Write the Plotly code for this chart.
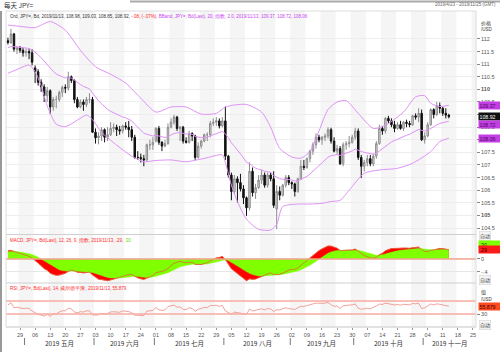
import numpy as np
import plotly.graph_objects as go

# ---------------- data (USD/JPY daily, 2019-04-23 .. 2019-11-13) ----------------
open_ = [111.93,111.86,112.20,111.58,111.65,111.55,111.45,111.50,111.45,110.85,
         110.70,110.28,110.10,109.75,109.95,109.30,109.60,109.60,109.88,110.08,
         110.05,110.50,110.35,109.60,109.30,109.50,109.40,109.60,109.60,108.30,
         108.08,108.15,108.40,108.10,108.20,108.45,108.50,108.40,108.35,108.55,
         108.50,108.40,108.10,107.30,107.30,107.25,107.20,107.80,107.80,107.95,
         108.45,107.90,107.75,107.85,108.50,108.70,108.90,108.45,108.50,107.95,
         107.90,108.25,108.15,107.30,107.75,107.95,108.20,108.20,108.65,108.70,
         108.75,108.55,108.75,107.35,106.60,105.95,106.45,106.30,106.05,105.70,
         105.30,106.75,105.90,106.10,106.40,106.60,106.20,106.60,106.45,105.25,
         105.95,105.80,106.20,106.50,106.30,106.25,105.95,106.45,106.95,106.90,
         107.25,107.55,107.80,108.10,108.00,108.10,108.15,108.40,107.95,107.55,
         107.65,107.05,107.80,107.85,107.90,108.10,108.35,107.30,106.95,107.10,
         107.25,107.05,107.35,107.85,108.45,108.35,108.85,108.75,108.60,108.45,
         108.60,108.45,108.70,108.65,108.60,108.95,108.90,109.05,108.00,108.15,
         108.60,109.20,109.00,109.35,109.25,109.05,108.98]
high = [112.05,112.40,112.24,111.72,111.72,111.66,111.62,111.60,111.60,110.95,
        110.80,110.40,110.20,110.10,110.00,109.70,109.75,109.95,110.15,110.20,
        110.70,110.55,110.40,109.70,109.60,109.60,109.70,109.85,109.70,108.45,
        108.30,108.50,108.45,108.50,108.70,108.65,108.60,108.55,108.60,108.70,
        108.75,108.55,108.20,107.55,107.45,107.40,107.85,108.00,108.10,108.50,
        108.55,107.95,108.00,108.65,108.85,108.99,108.95,108.55,108.55,108.10,
        108.35,108.30,108.20,107.90,108.00,108.25,108.30,108.75,108.85,108.90,
        108.85,108.90,109.32,107.40,106.70,106.60,106.55,106.65,106.20,105.75,
        107.10,106.90,106.25,106.60,106.80,106.70,106.70,106.70,106.75,106.20,
        106.15,106.25,106.60,106.60,106.35,106.30,106.50,107.20,107.20,107.30,
        107.60,107.90,108.25,108.20,108.15,108.25,108.50,108.48,108.10,107.80,
        107.75,107.90,107.95,108.15,108.20,108.48,108.45,107.40,107.20,107.40,
        107.40,107.45,107.95,108.60,108.55,108.90,108.95,108.85,108.75,108.70,
        108.75,108.75,108.80,108.75,109.00,109.05,109.25,109.20,108.30,108.70,
        109.25,109.25,109.50,109.48,109.30,109.25,109.03]
low = [111.78,111.80,111.50,111.40,111.45,111.30,111.30,111.20,110.95,110.25,
       110.15,109.90,109.50,109.50,109.02,109.15,109.25,109.50,109.70,109.85,
       109.95,110.25,109.45,109.25,109.25,109.15,109.30,109.45,108.28,107.85,
       107.82,107.95,107.90,107.95,108.15,108.30,108.15,108.20,108.25,108.40,
       108.10,107.95,107.25,107.20,107.10,106.95,107.15,107.60,107.60,107.90,
       107.80,107.55,107.70,107.80,108.45,108.60,108.35,107.95,107.85,107.85,
       107.85,107.95,107.20,107.25,107.65,107.90,107.95,108.10,108.55,108.55,
       108.45,108.50,107.20,106.50,105.60,105.85,105.50,105.95,105.45,104.98,
       105.20,105.75,105.65,106.05,106.25,106.10,106.10,106.35,105.30,104.45,
       105.60,105.75,106.10,106.20,106.05,105.75,105.90,106.40,106.80,106.85,
       107.10,107.40,107.65,107.90,107.80,107.95,108.05,107.85,107.50,107.40,
       107.00,106.95,107.60,107.70,107.85,108.00,107.20,106.48,106.75,106.95,
       106.95,106.95,107.25,107.80,108.20,108.25,108.65,108.50,108.30,108.40,
       108.40,108.35,108.50,108.50,108.55,108.80,108.70,107.95,107.85,108.10,
       108.55,108.85,108.95,109.05,108.95,108.85,108.85]
close = [111.86,112.20,111.60,111.65,111.55,111.45,111.50,111.45,111.08,110.70,
         110.28,110.10,109.75,109.95,109.30,109.60,109.60,109.88,110.08,110.05,
         110.50,110.35,109.60,109.30,109.50,109.40,109.60,109.60,108.30,108.08,
         108.15,108.40,108.10,108.20,108.45,108.50,108.40,108.35,108.55,108.50,
         108.40,108.10,107.30,107.30,107.25,107.20,107.80,107.80,107.90,108.45,
         107.90,107.75,107.85,108.50,108.70,108.90,108.45,108.50,107.95,107.90,
         108.25,108.15,107.30,107.75,107.95,108.20,108.20,108.65,108.70,108.75,
         108.55,108.75,107.35,106.60,105.95,106.45,106.30,106.05,105.70,105.30,
         106.75,105.90,106.10,106.40,106.60,106.20,106.60,106.45,105.40,105.95,
         105.80,106.20,106.50,106.30,106.25,105.95,106.45,106.95,106.90,107.25,
         107.55,107.80,108.10,108.00,108.10,108.15,108.40,107.95,107.55,107.65,
         107.05,107.80,107.85,107.90,108.10,108.35,107.30,106.95,107.10,107.25,
         107.05,107.35,107.85,108.45,108.35,108.85,108.75,108.60,108.45,108.60,
         108.45,108.70,108.65,108.60,108.95,108.90,109.05,108.00,108.15,108.60,
         109.20,109.00,109.35,109.25,109.05,108.98,108.92]

# Bollinger band edges (trading-day index, price)
upper_idx = [1, 5, 10, 15, 20, 25, 30, 35, 40, 45, 50, 55, 60, 65, 70, 73, 76, 80,
             85, 88, 91, 95, 98, 101, 104, 107, 110, 113, 117, 122, 126, 132, 136,
             139, 141, 144, 147]
upper_val = [112.55, 112.50, 112.45, 112.69, 112.35, 111.55, 110.90, 110.60, 110.25,
             109.65, 109.10, 109.30, 109.30, 109.02, 109.05, 109.30, 109.38, 109.40,
             109.10, 108.50, 107.66, 107.32, 107.27, 107.53, 108.35, 109.20, 109.50,
             109.55, 109.05, 108.45, 108.58, 109.10, 109.70, 109.75, 109.45, 109.32,
             109.37]
lower_idx = [1, 5, 8, 10, 12, 14, 17, 20, 24, 27, 29, 32, 37, 42, 46, 50, 55, 60, 66,
             72, 73, 75, 77, 80, 84, 88, 90, 92, 97, 101, 105, 108, 111, 114, 119, 124,
             130, 135, 141, 144, 147]
lower_val = [110.64, 110.84, 110.97, 110.70, 110.15, 109.35, 108.62, 108.52, 108.78,
             108.98, 108.80, 108.30, 107.79, 107.35, 107.13, 107.18, 107.20, 107.13,
             107.26, 107.40, 107.10, 106.20, 105.55, 104.85, 104.45, 104.42, 104.65,
             105.35, 105.45, 105.45, 105.48, 105.55, 105.60, 106.00, 106.67, 106.80,
             106.87, 107.07, 107.53, 107.93, 108.06]

day_labels = ["29","06","13","20","27","03","10","17","24","01","08","15","22","29",
              "05","12","19","26","02","09","16","23","30","07","14","21","28",
              "04","11","18","25"]
month_names = ["2019 五月","2019 六月","2019 七月","2019 八月","2019 九月",
               "2019 十月","2019 十一月"]
month_first_day = [7, 30, 50, 73, 95, 116, 139]   # trading-day index of month start

# seeds for the indicators (state before the first visible day)
bb_seed_mid = 111.63
macd_seed_fast, macd_seed_slow, macd_seed_sig = 111.74, 111.48, 0.22
rsi_seed_gain, rsi_seed_loss, rsi_seed_prev = 0.090, 0.060, 111.93

# ---------------- indicators ----------------
c = np.array(close)
n = len(c)
xs = np.arange(1, n + 1)

def ema(vals, span, seed):
    k = 2 / (span + 1); out = []; prev = seed
    for val in vals:
        prev = prev + k * (val - prev); out.append(prev)
    return np.array(out)

mid = ema(c, 20, bb_seed_mid)
macd = ema(c, 12, macd_seed_fast) - ema(c, 26, macd_seed_slow)
sig = ema(macd, 9, macd_seed_sig)

rsi = []
ag, al, prevc = rsi_seed_gain, rsi_seed_loss, rsi_seed_prev
for p in c:
    ch = p - prevc
    ag = (ag * 13 + max(ch, 0)) / 14
    al = (al * 13 + max(-ch, 0)) / 14
    rsi.append(100 - 100 / (1 + ag / al))
    prevc = p

# ---------------- geometry helpers ----------------
W, H = 500, 352
def py(y):
    return 1 - y / H
def px(x):
    return x / W

X0, X1 = 6, 476
MAIN = (11, 234); MACDP = (235, 282); RSIP = (284, 327)

fig = go.Figure()

fig.add_trace(go.Candlestick(
    x=xs, open=open_, high=high, low=low, close=close,
    increasing=dict(line=dict(color="#8c8c8c", width=1), fillcolor="#dcdcdc"),
    decreasing=dict(line=dict(color="#111111", width=1), fillcolor="#111111"),
    whiskerwidth=0, showlegend=False, xaxis="x", yaxis="y"))
band_line = dict(color="#df92f5", width=1, shape="spline", smoothing=0.7)
fig.add_trace(go.Scatter(x=upper_idx, y=upper_val, mode="lines", line=band_line,
                         showlegend=False, xaxis="x", yaxis="y"))
fig.add_trace(go.Scatter(x=xs, y=mid, mode="lines", line=dict(color="#df92f5", width=1),
                         showlegend=False, xaxis="x", yaxis="y"))
fig.add_trace(go.Scatter(x=lower_idx, y=lower_val, mode="lines", line=band_line,
                         showlegend=False, xaxis="x", yaxis="y"))

fig.add_trace(go.Scatter(x=xs, y=macd, mode="lines", fill="tozeroy",
                         fillcolor="#ff0000", line=dict(color="#ff0000", width=0.5),
                         showlegend=False, xaxis="x", yaxis="y2"))
fig.add_trace(go.Scatter(x=xs, y=sig, mode="lines", fill="tozeroy",
                         fillcolor="#80ff00", line=dict(color="#80ff00", width=0.5),
                         showlegend=False, xaxis="x", yaxis="y2"))
fig.add_trace(go.Scatter(x=xs, y=macd, mode="lines",
                         line=dict(color="#e2643c", width=0.8),
                         showlegend=False, xaxis="x", yaxis="y2"))

fig.add_trace(go.Scatter(x=xs, y=rsi, mode="lines",
                         line=dict(color="#f08a80", width=0.8),
                         showlegend=False, xaxis="x", yaxis="y3"))

# ---------------- shapes ----------------
shapes = []
for w in range(1, 32, 2):
    shapes.append(dict(type="rect", xref="x", yref="paper",
                       x0=5 * w - 0.5, x1=min(5 * w + 4.5, 156.0),
                       y0=py(RSIP[1]), y1=py(MAIN[0]),
                       fillcolor="#f5f5f5", line=dict(width=0, color="rgba(0,0,0,0)"),
                       layer="below"))
shapes.append(dict(type="line", xref="paper", yref="y2", x0=px(X0), x1=px(X1),
                   y0=0, y1=0, line=dict(color="#f5a58f", width=1.5)))
for lv in (70, 30):
    shapes.append(dict(type="line", xref="paper", yref="y3", x0=px(X0), x1=px(X1),
                       y0=lv, y1=lv, line=dict(color="#f7aaa2", width=1.5)))
for yy in (MAIN[1] + 0.5, MACDP[1] + 1, RSIP[1]):
    shapes.append(dict(type="line", xref="paper", yref="paper", x0=px(X0), x1=px(X1),
                       y0=py(yy), y1=py(yy), line=dict(color="#cfcfcf", width=1)))
shapes.append(dict(type="rect", xref="paper", yref="paper", x0=px(X0), x1=px(X1),
                   y0=py(RSIP[1]), y1=py(MAIN[0]), line=dict(color="#dddddd", width=1)))
# outer frame pieces
shapes.append(dict(type="line", xref="paper", yref="paper", x0=px(1), x1=px(1),
                   y0=0, y1=py(11), line=dict(color="#999999", width=2)))
shapes.append(dict(type="line", xref="paper", yref="paper", x0=px(130), x1=1,
                   y0=py(1.5), y1=py(1.5), line=dict(color="#aaaaaa", width=2)))
for d in month_first_day:
    shapes.append(dict(type="line", xref="x", yref="paper", x0=d - 0.5, x1=d - 0.5,
                       y0=py(345), y1=py(338), line=dict(color="#777777", width=1)))

# ---------------- annotations ----------------
ann = []
FONT = "Liberation Sans, Arial"
def label(x, y, text, size=5, color="#444444", xanchor="left", family=FONT, **kw):
    d = dict(xref="paper", yref="paper", x=px(x), y=py(y), text=text, showarrow=False,
             xanchor=xanchor, yanchor="middle",
             font=dict(size=size, color=color, family=family))
    d.update(kw)
    ann.append(d)

label(2, 5, "每天 JPY=", size=6.5, color="#333333", family="Noto Sans CJK SC")
label(498, 5, "2019/4/23 - 2019/11/25 (GMT)", size=4.5, color="#666666", xanchor="right")
label(8, 16, "<span style='color:#333'>Ord, JPY=, Bd, 2019/11/13, 108.98, 109.03, 108.85, 108.92, </span>"
             "<span style='color:#ff2a2a'>-.08, (-.07%), </span>"
             "<span style='color:#c844f0'>BBand, JPY=, Bd(Last), 20, 指数, 2.0, 2019/11/13, 109.37, 108.72, 108.06</span>",
      size=4.5)
label(8, 240, "<span style='color:#ff2a2a'>MACD, JPY=, Bd(Last), 12, 26, 9, 指数, 2019/11/13, .29, </span>"
              "<span style='color:#66dd00'>.30</span>", size=4.5)
label(8, 288, "<span style='color:#ff2a2a'>RSI, JPY=, Bd(Last), 14, 威尔德平滑, 2019/11/13, 55.879</span>",
      size=4.5)

label(479, 23, "价格", size=5, color="#333333", family="Noto Sans CJK SC")
label(479, 30, "/USD", size=4.5, color="#333333")
label(479, 292, "值", size=5, color="#333333", family="Noto Sans CJK SC")
label(479, 299, "/USD", size=4.5, color="#333333")
for yy in (236, 280, 325):
    label(479, yy, "自动", size=5, color="#444444", family="Noto Sans CJK SC",
          bgcolor="#f4f4f4", bordercolor="#cfcfcf", borderwidth=0.5, borderpad=0.5)

def box(y, text, bg, fg):
    ann.append(dict(xref="paper", yref="paper", x=px(478), y=py(y), text=text,
                    showarrow=False, xanchor="left", yanchor="middle",
                    font=dict(size=5.2, color=fg, family=FONT),
                    bgcolor=bg, borderpad=0.6, width=20, align="left"))
box(105.5, "109.37", "#c43ee6", "#4a0a5a")
box(116.5, "108.92", "#111111", "#ffffff")
box(124, "108.72", "#c43ee6", "#4a0a5a")
box(138.5, "108.06", "#c43ee6", "#4a0a5a")
box(244, ".30", "#80ff00", "#224400")
box(249, ".29", "#ff1a1a", "#400000")
box(306, "55.879", "#ff4b1f", "#400000")

for k, name in enumerate(month_names):
    a0 = month_first_day[k] - 0.5
    a1 = month_first_day[k + 1] - 0.5 if k + 1 < len(month_first_day) else 156.0
    ann.append(dict(xref="x", yref="paper", x=(a0 + a1) / 2, y=py(342.5), text=name,
                    showarrow=False, xanchor="center", yanchor="middle",
                    font=dict(size=6.5, color="#333333", family="Noto Sans CJK SC")))

# ---------------- axes ----------------
price_ticks = [104.5 + 0.5 * k for k in range(16)]
hidden = (108.0, 109.0)
price_text = []
for t in price_ticks:
    s = "%g" % t
    if t in hidden:
        s = ""
    elif t in (105, 110):
        s = "<b>%s</b>" % s
    price_text.append(s)

axis_font = dict(size=5.5, color="#555555", family=FONT)
fig.update_layout(
    width=W, height=H, margin=dict(l=0, r=0, t=0, b=0),
    paper_bgcolor="white", plot_bgcolor="rgba(0,0,0,0)",
    shapes=shapes, annotations=ann, showlegend=False,
    xaxis=dict(domain=[px(X0), px(X1)], range=[0.36, 156.0], anchor="y3",
               tickmode="array", tickvals=[5 * k + 5 for k in range(31)],
               ticktext=day_labels, ticks="outside", ticklen=2, tickcolor="#999999",
               tickfont=dict(size=5.5, color="#555555", family=FONT),
               showgrid=False, zeroline=False, rangeslider=dict(visible=False),
               showline=False, fixedrange=True),
    yaxis=dict(domain=[py(MAIN[1]), py(MAIN[0])], range=[104.262, 113.11], anchor="x",
               side="right", tickmode="array", tickvals=price_ticks, ticktext=price_text,
               ticks="outside", ticklen=3, tickcolor="#888888", tickfont=axis_font,
               showgrid=True, gridcolor="#ededed", gridwidth=1, zeroline=False),
    yaxis2=dict(domain=[py(MACDP[1]), py(MACDP[0])], range=[-0.708, 0.738], anchor="x",
                side="right", tickmode="array", tickvals=[-0.4, 0], ticktext=["-.4", "0"],
                ticks="outside", ticklen=3, tickcolor="#888888", tickfont=axis_font,
                showgrid=True, gridcolor="#e6e6e6", zeroline=False),
    yaxis3=dict(domain=[py(RSIP[1]), py(RSIP[0])], range=[-10, 122.3], anchor="x",
                side="right", tickmode="array", tickvals=[30], ticktext=["30"],
                ticks="outside", ticklen=3, tickcolor="#888888", tickfont=axis_font,
                showgrid=False, zeroline=False),
)

fig.write_html("out.html")
